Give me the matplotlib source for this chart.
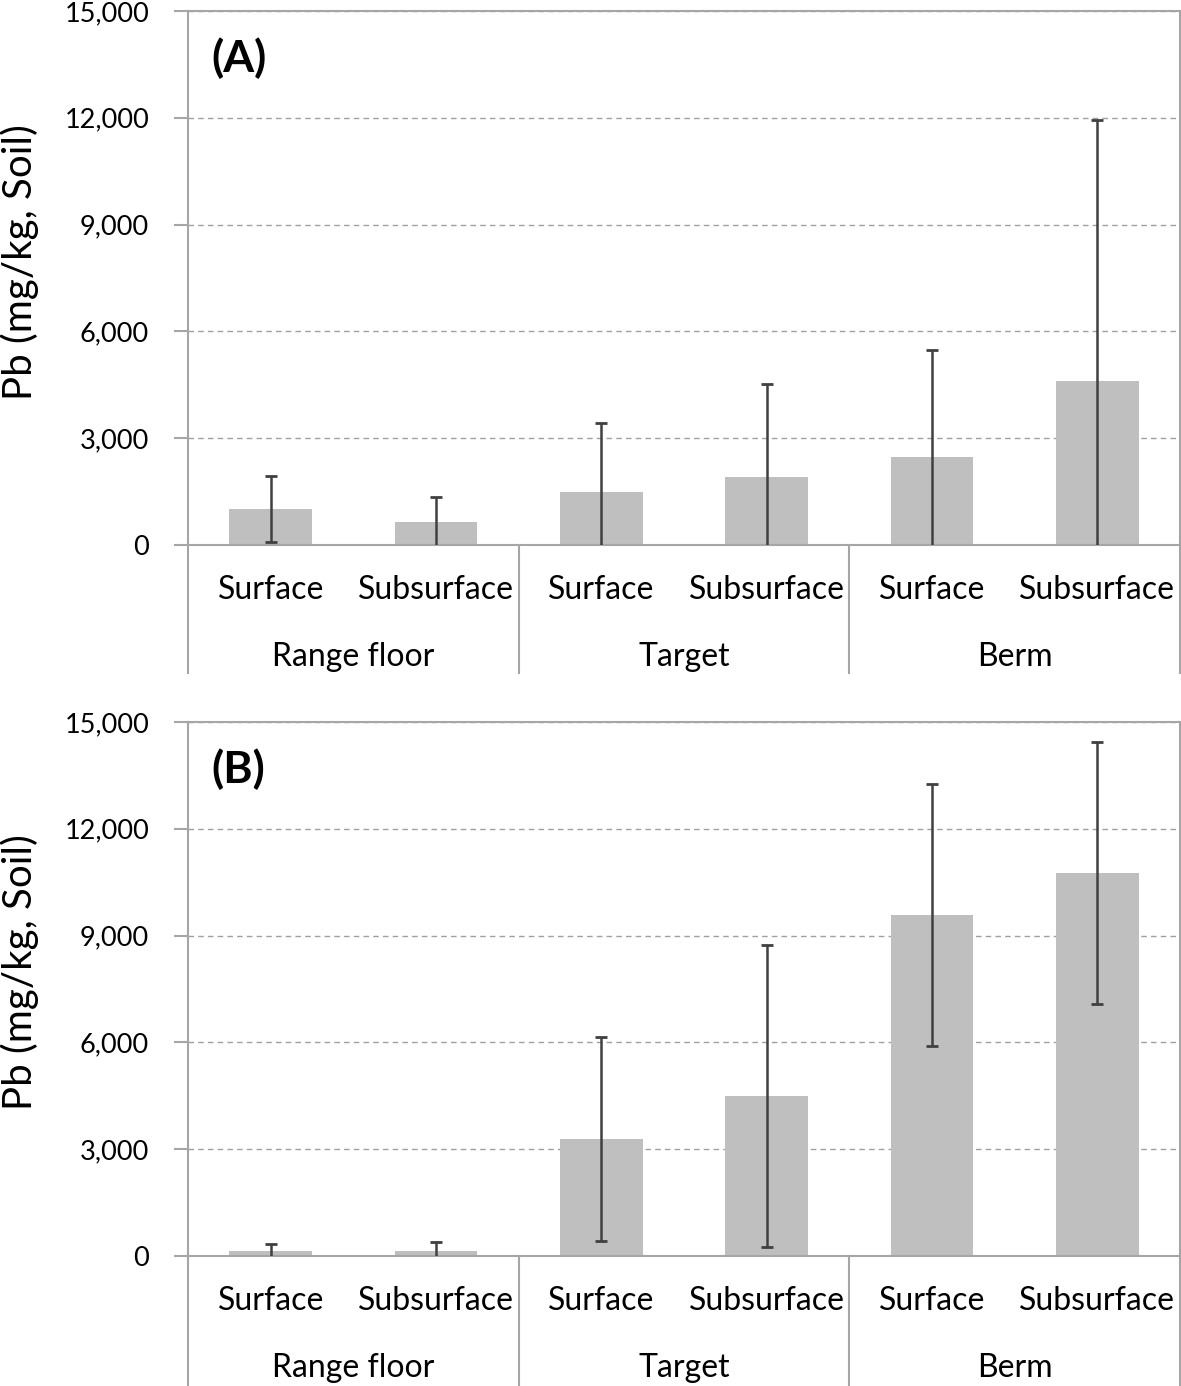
import matplotlib.pyplot as plt
import matplotlib.transforms as mtransforms
from matplotlib.ticker import FuncFormatter
import numpy as np

plt.rcParams['font.family'] = ['Lato', 'DejaVu Sans']

layers = ['Surface', 'Subsurface', 'Surface', 'Subsurface', 'Surface', 'Subsurface']
groups = ['Range floor', 'Target', 'Berm']

# panel A: mean and error (mg/kg)
pb_a = [1010, 640, 1490, 1910, 2470, 4600]
err_a = [930, 720, 1940, 2610, 3000, 7330]

# panel B
pb_b = [140, 140, 3290, 4500, 9570, 10750]
err_b = [190, 250, 2870, 4240, 3680, 3680]

yticks = [0, 3000, 6000, 9000, 12000, 15000]

fig = plt.figure(figsize=(11.81, 13.86), dpi=100)
ax_a = fig.add_axes([188 / 1181, 1 - 545 / 1386, 992 / 1181, 534 / 1386])
ax_b = fig.add_axes([188 / 1181, 1 - 1256 / 1386, 992 / 1181, 534 / 1386])

spine_col = '#a6a6a6'


def draw_panel(ax, vals, errs, tag, sep_depth):
    x = np.arange(len(vals))
    ax.bar(x, vals, width=0.5, color='#bfbfbf', zorder=2)
    ax.errorbar(x, vals, yerr=errs, fmt='none', ecolor='#404040',
                elinewidth=1.8, capsize=4, capthick=2, zorder=3)
    ax.set_xlim(-0.5, 5.5)
    ax.set_ylim(0, 15000)
    ax.set_yticks(yticks)
    ax.yaxis.set_major_formatter(FuncFormatter(lambda v, p: f'{int(v):,}'))
    ax.grid(axis='y', linestyle=(0, (4, 3)), color='#a0a0a0', lw=1, zorder=0)
    for s in ax.spines.values():
        s.set_color(spine_col)
        s.set_linewidth(1.5)
    ax.tick_params(axis='y', length=10, width=1.5, color=spine_col,
                   pad=18, labelsize=19.5)
    ax.set_xticks([])
    ax.text(0.051, 0.912, tag, transform=ax.transAxes, fontsize=32,
            fontweight='bold', ha='center', va='center')

    trans = mtransforms.blended_transform_factory(ax.transData, ax.transAxes)
    for i, lab in enumerate(layers):
        ax.text(i, -45 / 534, lab, transform=trans, ha='center', va='center',
                fontsize=23)
    for j, g in enumerate(groups):
        ax.text(2 * j + 0.5, -112 / 534, g, transform=trans, ha='center',
                va='center', fontsize=23)
    for b in [-0.5, 1.5, 3.5, 5.5]:
        ax.plot([b, b], [0, -sep_depth], transform=trans, color=spine_col,
                lw=1.5, clip_on=False)


draw_panel(ax_a, pb_a, err_a, '(A)', 128 / 534)
draw_panel(ax_b, pb_b, err_b, '(B)', 132 / 534)

fig.text(20 / 1181, 1 - 262 / 1386, 'Pb (mg/kg, Soil)', rotation=90,
         ha='center', va='center', fontsize=29)
fig.text(20 / 1181, 1 - 972 / 1386, 'Pb (mg/kg, Soil)', rotation=90,
         ha='center', va='center', fontsize=29)

fig.savefig('out.png', dpi=100)
